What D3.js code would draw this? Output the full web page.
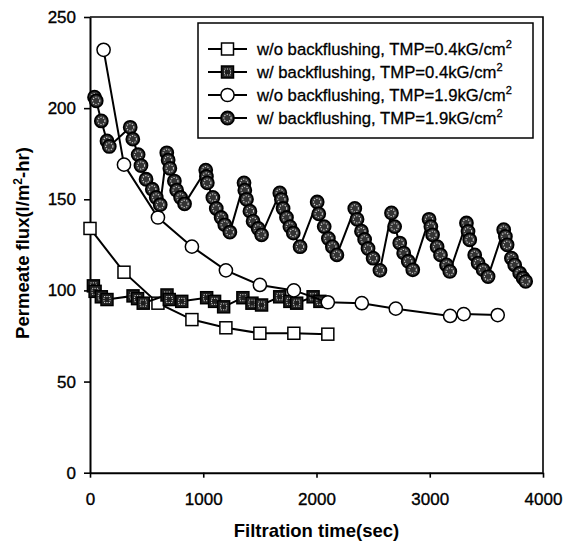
<!DOCTYPE html>
<html>
<head>
<meta charset="utf-8">
<script src="https://cdn.jsdelivr.net/npm/d3@7"></script>
<style>
  html, body { margin: 0; padding: 0; background: #fff; }
  svg { display: block; font-family: "Liberation Sans", Arial, sans-serif; }
</style>
</head>
<body>
<svg id="chart" width="571" height="545"></svg>
<script>
// Filtration time (sec) and permeate flux (l/m2-hr) for each run
const noBf04Time = [0, 300, 600, 900, 1200, 1500, 1800, 2100];
const noBf04Flux = [134, 110, 93, 84, 79.5, 76.5, 76.5, 76];

const bf04Time = [30, 45, 100, 150, 380, 420, 470, 680, 700, 810, 1030, 1100, 1180, 1350, 1430, 1515, 1675, 1765, 1825, 1970, 2030];
const bf04Flux = [102.5, 99.5, 96.5, 95, 97, 95.5, 93, 97.5, 95, 94, 96, 94, 91, 96, 93, 92, 96.5, 94, 93, 96.5, 94];

const noBf19Time = [120, 300, 600, 900, 1200, 1500, 1800, 2100, 2400, 2700, 3180, 3300, 3600];
const noBf19Flux = [232, 169, 140, 124, 111, 103, 100, 93.5, 93, 90, 86, 87, 86.5];

const bf19Time = [
  40, 55, 100, 150, 170,
  355, 378, 425, 450, 495, 550, 585, 620,
  678, 690, 705, 745, 765, 800, 835,
  1022, 1028, 1036, 1085, 1115, 1158, 1190, 1235,
  1360, 1367, 1382, 1412, 1440, 1485, 1515,
  1676, 1690, 1705, 1735, 1765, 1795, 1855,
  2006, 2020, 2068, 2105, 2140, 2180,
  2338, 2358, 2397, 2425, 2455, 2500, 2560,
  2662, 2690, 2735, 2770, 2810, 2850,
  2994, 3010, 3025, 3065, 3095, 3148, 3177,
  3324, 3338, 3353, 3397, 3427, 3471, 3515,
  3653, 3668, 3683, 3721, 3750, 3794, 3824, 3847
];
const bf19Flux = [
  206, 204, 193, 182, 179,
  189.5, 183, 174.5, 168.5, 161, 155.5, 151, 147,
  175.5, 171.5, 167, 160, 155, 151, 147.5,
  166, 162.5, 159, 151, 145, 140, 136, 132,
  159, 155, 150, 143.5, 138, 134, 130.5,
  153.5, 150, 145, 140, 135, 131.5, 124,
  148.5, 142, 135, 128.5, 124, 119.5,
  145, 139, 132.5, 128, 123, 117.7, 111,
  142.5, 135, 126, 120.5, 116, 111.3,
  139, 135, 130.5, 124, 119.5, 114, 110.4,
  137, 132.4, 127.8, 119.5, 115, 111.3, 107.6,
  133.3, 129.6, 125, 117.7, 114, 109.5, 106.8, 105
];

const xTicks = [0, 1000, 2000, 3000, 4000];
const yTicks = [0, 50, 100, 150, 200, 250];

const seriesLabels = [
  "w/o backflushing, TMP=0.4kG/cm",
  "w/ backflushing, TMP=0.4kG/cm",
  "w/o backflushing, TMP=1.9kG/cm",
  "w/ backflushing, TMP=1.9kG/cm"
];
const seriesMarkers = ["openSquare", "darkSquare", "openCircle", "darkCircle"];

const svg = d3.select("#chart");
const plot = { left: 90, right: 543, top: 17, bottom: 472.7 };

const x = d3.scaleLinear().domain([0, 4000]).range([plot.left, plot.right]);
const y = d3.scaleLinear().domain([0, 250]).range([plot.bottom, plot.top]);

// frame (top and right edges)
svg.append("path")
  .attr("d", `M${plot.left},${plot.top}H${plot.right}V${plot.bottom}`)
  .attr("fill", "none").attr("stroke", "#000").attr("stroke-width", 1.6);

// axes
const xAxis = svg.append("g")
  .attr("transform", `translate(0,${plot.bottom})`)
  .call(d3.axisBottom(x).tickValues(xTicks).tickFormat(d3.format("d")).tickSize(5).tickPadding(15).tickSizeOuter(0));
const yAxis = svg.append("g")
  .attr("transform", `translate(${plot.left},0)`)
  .call(d3.axisLeft(y).tickValues(yTicks).tickSize(6).tickPadding(8).tickSizeOuter(0));

[xAxis, yAxis].forEach(g => {
  g.select(".domain").attr("stroke", "#000").attr("stroke-width", 2);
  g.selectAll(".tick line").attr("stroke", "#000").attr("stroke-width", 1.6);
  g.selectAll(".tick text")
    .attr("fill", "#000")
    .attr("stroke", "#000").attr("stroke-width", 0.35)
    .style("font-family", '"Liberation Sans", Arial, sans-serif')
    .style("font-size", "17px");
});

// axis titles
svg.append("text")
  .attr("x", (plot.left + plot.right) / 2).attr("y", 537)
  .attr("text-anchor", "middle")
  .style("font-size", "18.5px").style("font-weight", "bold")
  .text("Filtration time(sec)");

const yTitle = svg.append("text")
  .attr("transform", `translate(29,243) rotate(-90)`)
  .attr("text-anchor", "middle")
  .style("font-size", "18.5px").style("font-weight", "bold");
yTitle.append("tspan").text("Permeate flux(l/m");
yTitle.append("tspan").attr("dy", -7).style("font-size", "12px").text("2");
yTitle.append("tspan").attr("dy", 7).text("-hr)");

// marker drawing
function drawMarker(g, kind) {
  if (kind === "openSquare") {
    g.append("rect").attr("x", -6).attr("y", -6).attr("width", 12).attr("height", 12)
      .attr("fill", "#fff").attr("stroke", "#000").attr("stroke-width", 1.5);
  } else if (kind === "darkSquare") {
    g.append("rect").attr("x", -6).attr("y", -6).attr("width", 12).attr("height", 12)
      .attr("fill", "#1e1e1e").attr("stroke", "#000").attr("stroke-width", 1.5);
    g.append("rect").attr("x", -3).attr("y", -3).attr("width", 6).attr("height", 6)
      .attr("fill", "none").attr("stroke", "#d8d8d8").attr("stroke-width", 1)
      .attr("stroke-dasharray", "1.2,1.2");
  } else if (kind === "openCircle") {
    g.append("circle").attr("r", 6.6)
      .attr("fill", "#fff").attr("stroke", "#000").attr("stroke-width", 1.5);
  } else {
    g.append("circle").attr("r", 6.5)
      .attr("fill", "#333").attr("stroke", "#000").attr("stroke-width", 1.8);
    g.append("circle").attr("r", 3.6)
      .attr("fill", "none").attr("stroke", "#d0d0d0").attr("stroke-width", 1.1)
      .attr("stroke-dasharray", "1.3,1.3");
  }
}

const line = d3.line().x(d => x(d[0])).y(d => y(d[1]));
const allSeries = [
  [noBf04Time, noBf04Flux],
  [bf04Time, bf04Flux],
  [noBf19Time, noBf19Flux],
  [bf19Time, bf19Flux]
];

allSeries.forEach(([ts, vs], i) => {
  const pts = ts.map((t, j) => [t, vs[j]]);
  const g = svg.append("g");
  g.append("path").datum(pts).attr("d", line)
    .attr("fill", "none").attr("stroke", "#000").attr("stroke-width", 2);
  g.selectAll("g.m").data(pts).join("g").attr("class", "m")
    .attr("transform", d => `translate(${x(d[0])},${y(d[1])})`)
    .each(function () { drawMarker(d3.select(this), seriesMarkers[i]); });
});

// legend
const legend = svg.append("g");
legend.append("rect").attr("x", 198).attr("y", 23).attr("width", 335).attr("height", 115)
  .attr("fill", "#fff").attr("stroke", "#000").attr("stroke-width", 1.5);
seriesLabels.forEach((label, i) => {
  const cy = 49 + i * 23;
  const row = legend.append("g");
  row.append("line").attr("x1", 208).attr("x2", 247).attr("y1", cy).attr("y2", cy)
    .attr("stroke", "#000").attr("stroke-width", 2);
  const m = row.append("g").attr("transform", `translate(227.5,${cy})`);
  drawMarker(m, seriesMarkers[i]);
  const t = row.append("text").attr("x", 257).attr("y", cy).attr("dy", "0.35em")
    .attr("stroke", "#000").attr("stroke-width", 0.3)
    .style("font-size", "16.7px");
  t.append("tspan").text(label);
  t.append("tspan").attr("dy", -7).style("font-size", "11px").text("2");
});
</script>
</body>
</html>
